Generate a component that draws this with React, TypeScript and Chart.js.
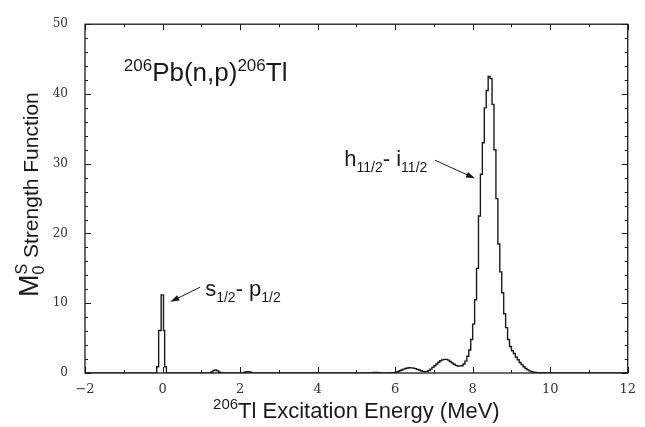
import React, { useEffect, useRef } from 'react';
import { Chart, registerables } from 'chart.js';

Chart.register(...registerables);

// ---- axis ranges / ticks ----
const X_MIN = -2;
const X_MAX = 12;
const Y_MIN = 0;
const Y_MAX = 50;
const X_LABEL_EVERY = 2;
const Y_LABEL_EVERY = 10;
const Y_MINOR_STEP = 2;

// ---- histogram data (MeV, strength) ----
const BIN_WIDTH = 0.05;
// s1/2 - p1/2 peak near 0 MeV (non-uniform bin edges)
const sPeakEdges = [-0.15, -0.1, -0.035, 0.025, 0.055, 0.1];
const sPeakStrength = [0.9, 6.1, 11.2, 6.1, 0.9];
// small bumps
const bump1Start = 1.25;
const bump1Strength = [0.15, 0.35, 0.45, 0.3, 0.1];
const bump2Start = 2.1;
const bump2Strength = [0.1, 0.2, 0.2, 0.1];
const bump3Start = 5.4;
const bump3Strength = [0.04, 0.07, 0.07, 0.04];
// main region (h11/2 - i11/2 resonance)
const mainStart = 5.9;
const mainStrength = [
  0.05, 0.06, 0.1, 0.2, 0.32, 0.44, 0.55, 0.65, 0.72, 0.75,
  0.74, 0.7, 0.62, 0.52, 0.42, 0.32, 0.24, 0.2, 0.24, 0.36,
  0.55, 0.8, 1.05, 1.3, 1.55, 1.75, 1.88, 1.95, 1.95, 1.85,
  1.65, 1.45, 1.25, 1.1, 1.0, 0.98, 1.05, 1.3, 1.7, 2.4,
  3.3, 4.8, 7.0, 10.5, 15.0, 22.5, 28.5, 33.0, 38.0, 40.5,
  42.5, 42.2, 38.5, 32.0, 25.0, 18.5, 14.5, 11.5, 8.5, 6.5,
  4.8, 3.8, 3.2, 2.8, 2.3, 1.9, 1.5, 1.2, 0.9, 0.65,
  0.45, 0.3, 0.2, 0.12, 0.08, 0.05, 0.04, 0.03, 0.03, 0.02,
  0.02, 0.01,
];

// ---- annotations (data coordinates) ----
const titleText = { pos: [-1.0, 41.9] };
const hLabelPos = [4.69, 29.7];
const hArrow = { from: [7.03, 30.5], to: [8.06, 27.9] };
const sLabelPos = [1.1, 11.1];
const sArrow = { from: [0.97, 12.3], to: [0.2, 10.2] };

const SANS = '"Liberation Sans", Arial, sans-serif';
const SERIF = '"DejaVu Serif", serif';
const INK = '#1a1a1a';

type Pt = { x: number; y: number };

function buildPoints(): Pt[] {
  const pts: Pt[] = [{ x: X_MIN, y: 0 }];
  const addEdges = (edges: number[], vals: number[]) => {
    vals.forEach((v, i) => pts.push({ x: edges[i], y: v }));
    pts.push({ x: edges[vals.length], y: 0 });
  };
  const addUniform = (start: number, vals: number[]) => {
    const edges = vals.map((_, i) => +(start + i * BIN_WIDTH).toFixed(4));
    edges.push(+(start + vals.length * BIN_WIDTH).toFixed(4));
    addEdges(edges, vals);
  };
  addEdges(sPeakEdges, sPeakStrength);
  addUniform(bump1Start, bump1Strength);
  addUniform(bump2Start, bump2Strength);
  addUniform(bump3Start, bump3Strength);
  addUniform(mainStart, mainStrength);
  pts.push({ x: X_MAX, y: 0 });
  return pts;
}

type Part = { t: string; size: number; dy?: number; noAdvance?: boolean };

function richWidth(ctx: CanvasRenderingContext2D, parts: Part[]) {
  let w = 0;
  let pending = 0;
  for (const p of parts) {
    ctx.font = `${p.size}px ${SANS}`;
    const m = ctx.measureText(p.t).width;
    if (p.noAdvance) {
      pending = Math.max(pending, m);
    } else {
      w += Math.max(m, pending);
      pending = 0;
    }
  }
  return w + pending;
}

function drawRich(ctx: CanvasRenderingContext2D, parts: Part[], x: number, y: number, align: 'left' | 'center') {
  let cx = align === 'center' ? x - richWidth(ctx, parts) / 2 : x;
  let pending = 0;
  ctx.textAlign = 'left';
  ctx.textBaseline = 'alphabetic';
  for (const p of parts) {
    ctx.font = `${p.size}px ${SANS}`;
    ctx.fillText(p.t, cx, y + (p.dy || 0));
    const m = ctx.measureText(p.t).width;
    if (p.noAdvance) {
      pending = Math.max(pending, m);
    } else {
      cx += Math.max(m, pending);
      pending = 0;
    }
  }
}

function arrow(ctx: CanvasRenderingContext2D, x1: number, y1: number, x2: number, y2: number) {
  const ang = Math.atan2(y2 - y1, x2 - x1);
  const L = 9;
  const W = 3;
  ctx.beginPath();
  ctx.moveTo(x1, y1);
  ctx.lineTo(x2 - L * 0.6 * Math.cos(ang), y2 - L * 0.6 * Math.sin(ang));
  ctx.stroke();
  ctx.beginPath();
  ctx.moveTo(x2, y2);
  ctx.lineTo(x2 - L * Math.cos(ang) + W * Math.sin(ang), y2 - L * Math.sin(ang) - W * Math.cos(ang));
  ctx.lineTo(x2 - L * Math.cos(ang) - W * Math.sin(ang), y2 - L * Math.sin(ang) + W * Math.cos(ang));
  ctx.closePath();
  ctx.fill();
}

const framePlugin = {
  id: 'frameAndText',
  afterDraw(chart: any) {
    const { ctx, chartArea: a, scales } = chart;
    const xs = scales.x;
    const ys = scales.y;
    ctx.save();
    ctx.strokeStyle = INK;
    ctx.fillStyle = INK;
    ctx.lineWidth = 1.3;
    ctx.strokeRect(a.left, a.top, a.right - a.left, a.bottom - a.top);
    ctx.lineWidth = 1;
    // x ticks (inward, top & bottom)
    for (let v = X_MIN; v <= X_MAX; v += 1) {
      const px = Math.round(xs.getPixelForValue(v)) + 0.5;
      const len = v % X_LABEL_EVERY === 0 ? 6 : 3;
      ctx.beginPath();
      ctx.moveTo(px, a.bottom);
      ctx.lineTo(px, a.bottom - len);
      ctx.moveTo(px, a.top);
      ctx.lineTo(px, a.top + len);
      ctx.stroke();
    }
    // y ticks (inward, left & right)
    for (let v = Y_MIN; v <= Y_MAX; v += Y_MINOR_STEP) {
      const py = Math.round(ys.getPixelForValue(v)) + 0.5;
      const len = v % Y_LABEL_EVERY === 0 ? 6 : 3;
      ctx.beginPath();
      ctx.moveTo(a.left, py);
      ctx.lineTo(a.left + len, py);
      ctx.moveTo(a.right, py);
      ctx.lineTo(a.right - len, py);
      ctx.stroke();
    }

    // in-plot title
    drawRich(
      ctx,
      [
        { t: '206', size: 17, dy: -10 },
        { t: 'Pb(n,p)', size: 26 },
        { t: '206', size: 17, dy: -10 },
        { t: 'Tl', size: 26 },
      ],
      xs.getPixelForValue(titleText.pos[0]),
      ys.getPixelForValue(titleText.pos[1]),
      'left'
    );

    // h11/2 - i11/2 label
    drawRich(
      ctx,
      [
        { t: 'h', size: 22 },
        { t: '11/2', size: 14, dy: 6 },
        { t: '- ', size: 22 },
        { t: 'i', size: 22 },
        { t: '11/2', size: 14, dy: 6 },
      ],
      xs.getPixelForValue(hLabelPos[0]),
      ys.getPixelForValue(hLabelPos[1]),
      'left'
    );
    // s1/2 - p1/2 label
    drawRich(
      ctx,
      [
        { t: 's', size: 22 },
        { t: '1/2', size: 14, dy: 6 },
        { t: '- ', size: 22 },
        { t: 'p', size: 22 },
        { t: '1/2', size: 14, dy: 6 },
      ],
      xs.getPixelForValue(sLabelPos[0]),
      ys.getPixelForValue(sLabelPos[1]),
      'left'
    );

    ctx.lineWidth = 1;
    arrow(
      ctx,
      xs.getPixelForValue(hArrow.from[0]),
      ys.getPixelForValue(hArrow.from[1]),
      xs.getPixelForValue(hArrow.to[0]),
      ys.getPixelForValue(hArrow.to[1])
    );
    arrow(
      ctx,
      xs.getPixelForValue(sArrow.from[0]),
      ys.getPixelForValue(sArrow.from[1]),
      xs.getPixelForValue(sArrow.to[0]),
      ys.getPixelForValue(sArrow.to[1])
    );

    // x axis title
    drawRich(
      ctx,
      [
        { t: '206', size: 15, dy: -9 },
        { t: 'Tl Excitation Energy (MeV)', size: 22 },
      ],
      (a.left + a.right) / 2,
      a.bottom + 45,
      'center'
    );

    // y axis title (rotated)
    ctx.save();
    ctx.translate(a.left - 47, (a.top + a.bottom) / 2 - 4);
    ctx.rotate(-Math.PI / 2);
    drawRich(
      ctx,
      [
        { t: 'M', size: 27 },
        { t: 'S', size: 16, dy: -11, noAdvance: true },
        { t: '0', size: 16, dy: 6 },
        { t: ' Strength Function', size: 21 },
      ],
      0,
      0,
      'center'
    );
    ctx.restore();

    ctx.restore();
  },
};

export default function App() {
  const ref = useRef<HTMLCanvasElement | null>(null);
  useEffect(() => {
    document.body.style.margin = '0';
    const canvas = ref.current;
    if (!canvas) return;
    const chart = new Chart(canvas, {
      type: 'line',
      data: {
        datasets: [
          {
            data: buildPoints(),
            borderColor: INK,
            borderWidth: 1.4,
            pointRadius: 0,
            stepped: true,
            fill: false,
            tension: 0,
          },
        ],
      },
      options: {
        animation: false,
        responsive: false,
        layout: { padding: { top: 14, right: 14, left: 0, bottom: 0 } },
        plugins: { legend: { display: false }, tooltip: { enabled: false }, title: { display: false } },
        scales: {
          x: {
            type: 'linear',
            min: X_MIN,
            max: X_MAX,
            grid: { display: false, drawTicks: false },
            border: { display: false },
            ticks: {
              stepSize: 1,
              autoSkip: false,
              maxRotation: 0,
              padding: 9,
              color: '#333',
              font: { family: SERIF, size: 13 },
              callback: (v: any) => (Number(v) % X_LABEL_EVERY === 0 ? String(v).replace('-', '\u2212') : ''),
            },
            afterFit: (s: any) => {
              s.height = 54;
            },
          },
          y: {
            type: 'linear',
            min: Y_MIN,
            max: Y_MAX,
            grid: { display: false, drawTicks: false },
            border: { display: false },
            ticks: {
              stepSize: Y_MINOR_STEP,
              autoSkip: false,
              padding: 17,
              color: '#333',
              font: { family: SERIF, size: 12 },
              callback: (v: any) => (Number(v) % Y_LABEL_EVERY === 0 ? String(v) : ''),
            },
            afterFit: (s: any) => {
              s.width = 85;
            },
          },
        },
      },
      plugins: [framePlugin],
    });
    return () => chart.destroy();
  }, []);
  return (
    <div style={{ width: 645, height: 427, background: '#fff' }}>
      <canvas ref={ref} width={645} height={427} />
    </div>
  );
}
